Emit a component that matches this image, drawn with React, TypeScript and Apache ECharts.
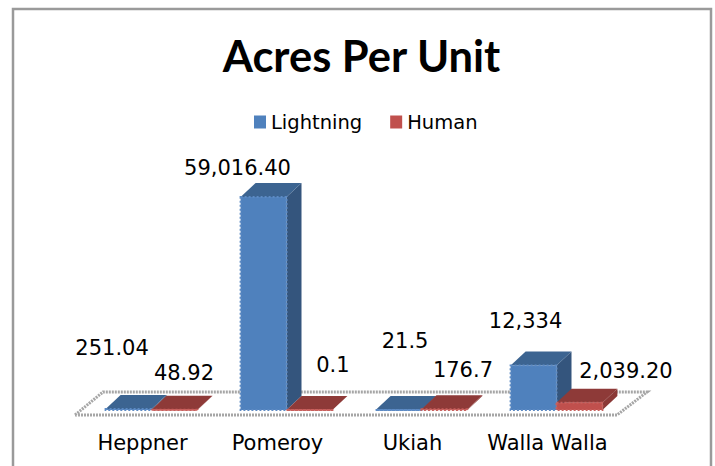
import React, { useEffect, useRef } from "react";
import * as echarts from "echarts";

const categories = ["Heppner", "Pomeroy", "Ukiah", "Walla Walla"];
const lightningValues = [251.04, 59016.4, 21.5, 12334];
const humanValues = [48.92, 0.1, 176.7, 2039.2];
const lightningLabels = ["251.04", "59,016.40", "21.5", "12,334"];
const humanLabels = ["48.92", "0.1", "176.7", "2,039.20"];

const FONT = "'DejaVu Sans', sans-serif";
const TITLE_FONT = "Lato, 'Open Sans', sans-serif";
const DEPTH_X = 15;
const DEPTH_Y = 14;
const BAR_SHIFT = 9;
const LIGHTNING_OFFSETS = [[-16.5, -61], [-26, -29], [6.5, -69], [-8, -44]];
const HUMAN_OFFSETS = [[9.5, -37], [23.5, -45], [18.5, -39], [46.5, -32]];

function barRenderer(
  side: -1 | 1,
  labels: string[],
  offsets: number[][],
  front: string,
  top: string,
  right: string,
  edge: string,
) {
  return (params: any, api: any) => {
    const cat = api.value(0);
    const val = api.value(1);
    const [cx, yTop] = api.coord([cat, val]);
    const [, y0] = api.coord([cat, 0]);
    const w = api.size([1, 0])[0] * 0.34;
    const center = cx + BAR_SHIFT;
    const x0 = side < 0 ? center - w : center;
    const x1 = x0 + w;
    const [ox, oy] = offsets[params.dataIndex];
    return {
      type: "group",
      children: [
        {
          type: "polygon",
          shape: { points: [[x1, y0], [x1 + DEPTH_X, y0 - DEPTH_Y], [x1 + DEPTH_X, yTop - DEPTH_Y], [x1, yTop]] },
          style: { fill: right },
        },
        {
          type: "polygon",
          shape: { points: [[x0, yTop], [x1, yTop], [x1 + DEPTH_X, yTop - DEPTH_Y], [x0 + DEPTH_X, yTop - DEPTH_Y]] },
          style: { fill: top },
        },
        {
          type: "rect",
          shape: { x: x0, y: yTop, width: w, height: y0 - yTop },
          style: { fill: front, stroke: edge, lineWidth: 2, lineDash: [2, 2] },
        },
        {
          type: "text",
          style: {
            x: (x0 + x1) / 2 + ox,
            y: yTop + oy,
            text: labels[params.dataIndex],
            fill: "#000",
            font: `21px ${FONT}`,
            align: "center",
            verticalAlign: "middle",
          },
        },
      ],
    };
  };
}

function floorRenderer(params: any, api: any) {
  const cs = params.coordSys;
  const [, base] = api.coord([0, 0]);
  const left = cs.x;
  const right = cs.x + cs.width;
  const yFront = base + 5;
  const yBack = base - 18;
  return {
    type: "polygon",
    shape: { points: [[left, yFront], [right + 2, yFront], [right + 32, yBack], [left + 28, yBack]] },
    style: { fill: "#fff", stroke: "#a6a6a6", lineWidth: 3, lineDash: [2, 1] },
    silent: true,
  };
}

export default function App() {
  const ref = useRef<HTMLDivElement>(null);
  useEffect(() => {
    const chart = echarts.init(ref.current!, undefined, { renderer: "svg" });
    chart.setOption({
      animation: false,
      backgroundColor: "#fff",
      title: {
        text: "Acres Per Unit",
        left: 356.5,
        top: 28,
        textAlign: "center",
        textStyle: { fontFamily: TITLE_FONT, fontWeight: "bold", fontSize: 43.5, color: "#000" },
      },
      legend: {
        data: ["Lightning", "Human"],
        left: 249,
        top: 107,
        icon: "rect",
        itemWidth: 12,
        itemHeight: 13,
        itemGap: 28,
        textStyle: { fontFamily: FONT, fontSize: 19.5, color: "#000" },
      },
      grid: { left: 75, top: 193.45, width: 540, height: 216.55 },
      xAxis: {
        type: "category",
        data: categories,
        axisLine: { show: false },
        axisTick: { show: false },
        axisLabel: { margin: 22, fontFamily: FONT, fontSize: 21, color: "#000", interval: 0 },
      },
      yAxis: { type: "value", min: 0, max: 60000, show: false, splitLine: { show: false } },
      graphic: [
        {
          type: "polyline",
          shape: { points: [[13, 466], [13, 9], [711, 9], [711, 466]] },
          style: { fill: "none", stroke: "#9a9a9a", lineWidth: 2.5 },
          silent: true,
        },
      ],
      series: [
        {
          type: "custom",
          name: "floor",
          z: 1,
          silent: true,
          data: [[0, 0]],
          encode: { x: 0, y: 1 },
          renderItem: floorRenderer,
        },
        {
          type: "custom",
          name: "Lightning",
          z: 2,
          clip: false,
          itemStyle: { color: "#4F81BD" },
          encode: { x: 0, y: 1 },
          data: lightningValues.map((v, i) => [i, v]),
          renderItem: barRenderer(-1, lightningLabels, LIGHTNING_OFFSETS, "#4F81BD", "#3C6491", "#34557D", "#5C8AC4"),
        },
        {
          type: "custom",
          name: "Human",
          z: 3,
          clip: false,
          itemStyle: { color: "#C0504D" },
          encode: { x: 0, y: 1 },
          data: humanValues.map((v, i) => [i, v]),
          renderItem: barRenderer(1, humanLabels, HUMAN_OFFSETS, "#C0504D", "#8E3A38", "#8A3836", "#C85F5C"),
        },
      ],
    });
    return () => chart.dispose();
  }, []);
  return <div ref={ref} style={{ position: "absolute", left: 0, top: 0, width: 715, height: 466 }} />;
}
